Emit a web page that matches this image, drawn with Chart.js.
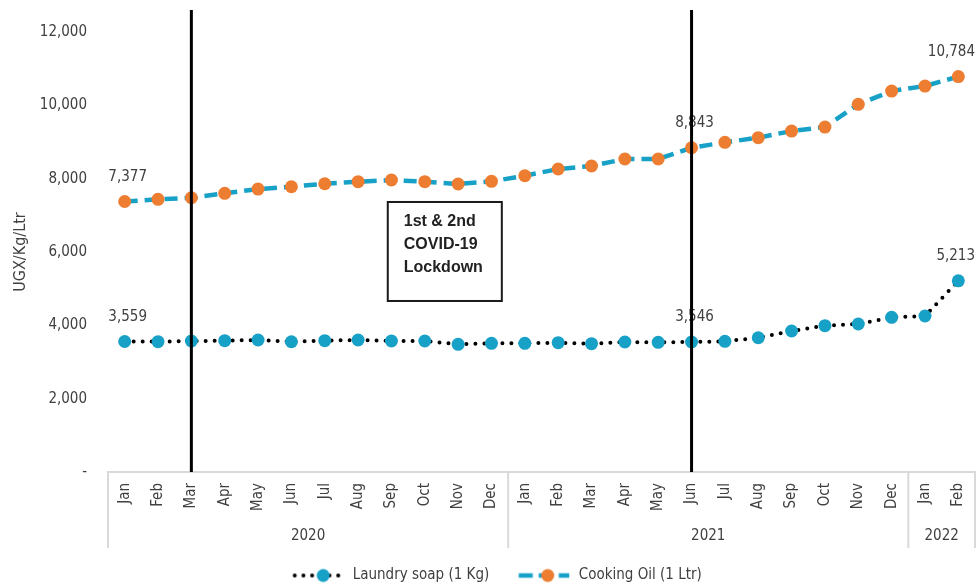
<!DOCTYPE html>
<html>
<head>
<meta charset="utf-8">
<script src="https://cdn.jsdelivr.net/npm/chart.js@4.4.1/dist/chart.umd.min.js"></script>
<style>
  html, body { margin: 0; padding: 0; background: #ffffff; }
</style>
</head>
<body>
<canvas id="chart" width="977" height="585"></canvas>
<script>
// Monthly retail prices, Jan 2020 – Feb 2022 (UGX)
const months = ['Jan','Feb','Mar','Apr','May','Jun','Jul','Aug','Sep','Oct','Nov','Dec',
                'Jan','Feb','Mar','Apr','May','Jun','Jul','Aug','Sep','Oct','Nov','Dec',
                'Jan','Feb'];
const yearLabels = ['2020', '2021', '2022'];
const yearMonthCounts = [12, 12, 2];

const laundrySoap = [3559, 3555, 3572, 3581, 3600, 3553, 3581, 3600, 3572, 3572, 3482, 3510,
                     3510, 3526, 3499, 3545, 3537, 3546, 3564, 3662, 3845, 3990, 4036, 4219,
                     4254, 5213];
const cookingOil  = [7377, 7437, 7480, 7600, 7717, 7780, 7862, 7917, 7963, 7917, 7854, 7927,
                     8080, 8263, 8345, 8536, 8536, 8843, 8991, 9117, 9299, 9408, 10027, 10390,
                     10526, 10784];

const seriesNames = ['Laundry soap (1 Kg)', 'Cooking Oil (1 Ltr)'];
const labelledPoints = [0, 17, 25];      // months whose price is printed
const lockdownMonths = [2, 17];          // Mar 2020 and Jun 2021
const lockdownText = ['1st & 2nd', 'COVID-19', 'Lockdown'];
const yTickStep = 2000;
const yMax = 12000;

const FONT = "'DejaVu Sans Condensed', 'Liberation Sans', sans-serif";
const FS = 15;
const TEXT = '#404040';
const BLUE = '#17a1c7';
const ORANGE = '#ed7d31';
const GRID = '#d9d9d9';

// Legend swatches: line style with a marker in the middle
function makeSwatch(kind) {
  const c = document.createElement('canvas');
  c.width = 72; c.height = 16;
  const g = c.getContext('2d');
  const y = 8, x0 = 19.5, x1 = 70;
  if (kind === 'soap') {
    g.fillStyle = '#000';
    for (let x = x0 + 2; x <= x1; x += 8.7) {
      g.beginPath(); g.arc(x, y, 2, 0, Math.PI * 2); g.fill();
    }
    g.fillStyle = BLUE;
    g.beginPath(); g.arc(x0 + 30.5, y, 6.5, 0, Math.PI * 2); g.fill();
  } else {
    g.strokeStyle = BLUE; g.lineWidth = 4.5;
    g.setLineDash([14, 6]);
    g.beginPath(); g.moveTo(x0, y); g.lineTo(x1, y); g.stroke();
    g.fillStyle = ORANGE;
    g.beginPath(); g.arc(x0 + 29, y, 6.5, 0, Math.PI * 2); g.fill();
  }
  return c;
}
const swatches = [makeSwatch('soap'), makeSwatch('oil')];

const overlayPlugin = {
  id: 'overlay',
  afterDatasetsDraw(chart) {
    const ctx = chart.ctx;
    const area = chart.chartArea;
    ctx.save();
    ctx.font = `${FS}px ${FONT}`;
    ctx.fillStyle = TEXT;
    ctx.textAlign = 'center';
    ctx.textBaseline = 'middle';
    chart.data.datasets.forEach((ds, di) => {
      const meta = chart.getDatasetMeta(di);
      labelledPoints.forEach(i => {
        const pt = meta.data[i];
        const txt = ds.data[i].toLocaleString('en-US');
        const w = ctx.measureText(txt).width;
        const x = Math.min(pt.x + 3, area.right - w / 2);
        ctx.fillText(txt, x, pt.y - 24.5);
      });
    });
    ctx.restore();
  },
  afterDraw(chart) {
    const ctx = chart.ctx;
    const area = chart.chartArea;
    const xs = chart.scales.x;
    const ys = chart.scales.y;
    ctx.save();

    // year grouping under the month labels
    const groupBottom = area.bottom + 76;
    const edges = [area.left];
    let idx = 0;
    yearMonthCounts.forEach(n => {
      idx += n;
      edges.push(idx >= months.length ? area.right
        : (xs.getPixelForValue(idx - 1) + xs.getPixelForValue(idx)) / 2);
    });
    ctx.strokeStyle = GRID;
    ctx.lineWidth = 2;
    edges.forEach(x => {
      ctx.beginPath();
      ctx.moveTo(x, area.bottom);
      ctx.lineTo(x, groupBottom);
      ctx.stroke();
    });
    ctx.font = `${FS}px ${FONT}`;
    ctx.fillStyle = TEXT;
    ctx.textAlign = 'center';
    ctx.textBaseline = 'middle';
    yearLabels.forEach((y, i) => {
      ctx.fillText(y, (edges[i] + edges[i + 1]) / 2, area.bottom + 64.5);
    });

    // lockdown annotation box
    const bx0 = xs.getPixelForValue(7.89), bx1 = xs.getPixelForValue(11.31);
    const by0 = ys.getPixelForValue(7364), by1 = ys.getPixelForValue(4664);
    ctx.fillStyle = '#ffffff';
    ctx.fillRect(bx0, by0, bx1 - bx0, by1 - by0);
    ctx.strokeStyle = '#1a1a1a';
    ctx.lineWidth = 2;
    ctx.strokeRect(bx0, by0, bx1 - bx0, by1 - by0);
    ctx.font = `bold 16px 'Liberation Sans', Arial, sans-serif`;
    ctx.fillStyle = '#222222';
    ctx.textAlign = 'left';
    lockdownText.forEach((t, i) => ctx.fillText(t, bx0 + 16, by0 + 20 + i * 23));

    // lockdown markers
    ctx.strokeStyle = '#000000';
    ctx.lineWidth = 3;
    lockdownMonths.forEach(i => {
      const x = xs.getPixelForValue(i);
      ctx.beginPath();
      ctx.moveTo(x, 10);
      ctx.lineTo(x, area.bottom);
      ctx.stroke();
    });
    ctx.restore();
  }
};

new Chart(document.getElementById('chart'), {
  type: 'line',
  data: {
    labels: months,
    datasets: [
      {
        label: seriesNames[0],
        data: laundrySoap,
        borderColor: '#000000',
        borderWidth: 4,
        borderDash: [0, 9],
        borderCapStyle: 'round',
        pointRadius: 6.5,
        pointHoverRadius: 6.5,
        pointBorderWidth: 0,
        pointBackgroundColor: BLUE,
        pointBorderColor: BLUE,
        tension: 0,
        clip: false
      },
      {
        label: seriesNames[1],
        data: cookingOil,
        borderColor: BLUE,
        borderWidth: 4.5,
        borderDash: [13, 7],
        pointRadius: 6.5,
        pointHoverRadius: 6.5,
        pointBorderWidth: 0,
        pointBackgroundColor: ORANGE,
        pointBorderColor: ORANGE,
        tension: 0,
        clip: false
      }
    ]
  },
  options: {
    responsive: false,
    devicePixelRatio: 1,
    animation: false,
    layout: { autoPadding: false, padding: { top: 32, bottom: -8, left: 0, right: 2 } },
    scales: {
      x: {
        type: 'category',
        offset: true,
        grid: { display: false, drawTicks: false },
        border: { display: true, color: GRID, width: 2 },
        ticks: {
          autoSkip: false,
          maxRotation: 90,
          minRotation: 90,
          padding: 11,
          color: TEXT,
          font: { family: FONT, size: FS }
        },
        afterFit(scale) {
          scale.height = 86;
          scale.paddingLeft = 0;
          scale.paddingRight = 0;
        }
      },
      y: {
        min: 0,
        max: yMax,
        grid: { display: false, drawTicks: false },
        border: { display: false },
        ticks: {
          stepSize: yTickStep,
          padding: 21,
          color: TEXT,
          font: { family: FONT, size: FS },
          callback: v => v === 0 ? '-' : v.toLocaleString('en-US')
        },
        title: {
          display: true,
          text: 'UGX/Kg/Ltr',
          color: TEXT,
          font: { family: FONT, size: 16 },
          padding: { top: 11, bottom: 0 }
        },
        afterFit(scale) { scale.width = 108; }
      }
    },
    plugins: {
      tooltip: { enabled: false },
      legend: {
        position: 'bottom',
        labels: {
          usePointStyle: true,
          pointStyleWidth: 72,
          padding: 10,
          color: TEXT,
          font: { family: FONT, size: FS },
          generateLabels(chart) {
            return chart.data.datasets.map((ds, i) => ({
              text: ds.label,
              pointStyle: swatches[i],
              fontColor: TEXT,
              hidden: false,
              datasetIndex: i,
              lineWidth: 0,
              strokeStyle: 'transparent',
              fillStyle: 'transparent'
            }));
          }
        }
      }
    }
  },
  plugins: [overlayPlugin]
});
</script>
</body>
</html>
